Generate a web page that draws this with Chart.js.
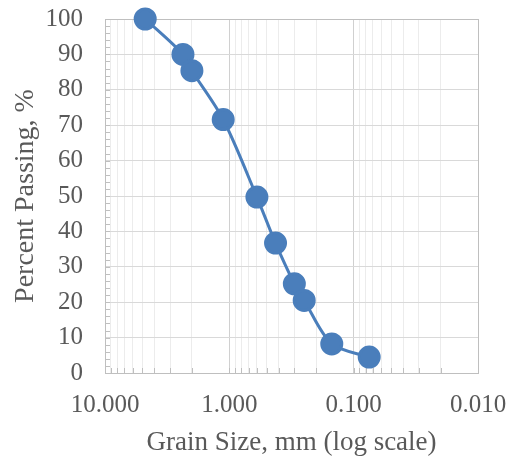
<!DOCTYPE html>
<html lang="en">
<head>
  <meta charset="UTF-8" />
  <title>Grain Size Distribution</title>
  <script src="https://cdn.jsdelivr.net/npm/chart.js"></script>
  <style>
    html, body { margin: 0; padding: 0; background: #fff; }
    #wrap { width: 511px; height: 459px; }
  </style>
</head>
<body>
  <div id="wrap"><canvas id="gradation" width="511" height="459"></canvas></div>

  <script>
    // sieve sizes (mm) and percent passing
    const grainSize = [4.75, 2.36, 2.0, 1.12, 0.6, 0.425, 0.3, 0.25, 0.15, 0.075];
    const percentPassing = [100, 90, 85.4, 71.6, 49.7, 36.7, 25.2, 20.5, 8.2, 4.5];
    const decades = [0.01, 0.1, 1, 10];
    const xMin = 0.01, xMax = 10;
    const yMin = 0, yMax = 100, yStep = 10;

    const serif = "'Liberation Serif', 'Times New Roman', serif";
    const textGray = "#595959";
    const blue = "#4a7ebb";

    const isDecade = v => Math.abs(Math.log10(v) - Math.round(Math.log10(v))) < 1e-9;

    // small inside tick marks like Excel minor ticks
    const innerTicks = {
      id: "innerTicks",
      beforeDatasetsDraw(chart) {
        const { ctx, chartArea: a, scales: { x, y } } = chart;
        ctx.save();
        ctx.strokeStyle = "#bfbfbf";
        ctx.lineWidth = 1;
        ctx.beginPath();
        x.ticks.forEach(t => {
          const px = Math.round(x.getPixelForValue(t.value)) + 0.5;
          ctx.moveTo(px, a.bottom);
          ctx.lineTo(px, a.bottom - 5);
        });
        for (let v = yMin; v <= yMax; v += 2) {
          const py = Math.round(y.getPixelForValue(v)) + 0.5;
          ctx.moveTo(a.left, py);
          ctx.lineTo(a.left + 5, py);
        }
        // plot area frame (top and right)
        ctx.moveTo(a.left, Math.round(a.top) + 0.5);
        ctx.lineTo(a.right, Math.round(a.top) + 0.5);
        ctx.moveTo(Math.round(a.right) + 0.5, a.top);
        ctx.lineTo(Math.round(a.right) + 0.5, a.bottom);
        ctx.stroke();
        ctx.restore();
      }
    };

    new Chart(document.getElementById("gradation"), {
      type: "line",
      data: {
        datasets: [{
          data: grainSize.map((g, i) => ({ x: g, y: percentPassing[i] })),
          borderColor: blue,
          backgroundColor: blue,
          borderWidth: 3,
          pointRadius: 10,
          pointHoverRadius: 10,
          tension: 0.3,
          clip: false
        }]
      },
      options: {
        responsive: false,
        animation: false,
        layout: { padding: { top: 19, right: 33, left: 0, bottom: 0 } },
        plugins: { legend: { display: false }, tooltip: { enabled: false } },
        scales: {
          x: {
            type: "logarithmic",
            reverse: true,
            min: xMin,
            max: xMax,
            afterBuildTicks(scale) {
              const ticks = [];
              decades.slice(0, -1).forEach(d => {
                for (let m = 1; m <= 9; m++) ticks.push({ value: +(m * d).toPrecision(6) });
              });
              ticks.push({ value: xMax });
              scale.ticks = ticks;
            },
            afterFit(scale) {
              scale.height = 86;
              scale.paddingLeft = 0;
              scale.paddingRight = 0;
            },
            ticks: {
              autoSkip: false,
              maxRotation: 0,
              color: textGray,
              font: { family: serif, size: 25 },
              padding: 17,
              callback: v => isDecade(v) ? Number(v).toFixed(3) : ""
            },
            grid: {
              drawTicks: false,
              color: c => (c.tick && isDecade(c.tick.value)) ? "#d0d0d0" : "#ececec"
            },
            border: { color: "#bfbfbf" },
            title: {
              display: true,
              text: "Grain Size, mm (log scale)",
              color: textGray,
              font: { family: serif, size: 27 },
              padding: { top: 5, bottom: 0 }
            }
          },
          y: {
            min: yMin,
            max: yMax,
            afterFit(scale) {
              scale.width = 105;
              scale.paddingTop = 0;
              scale.paddingBottom = 0;
            },
            ticks: {
              stepSize: yStep,
              color: textGray,
              font: { family: serif, size: 25 },
              padding: 22
            },
            grid: { drawTicks: false, color: "#d9d9d9" },
            border: { color: "#bfbfbf" },
            title: {
              display: true,
              text: "Percent Passing, %",
              color: textGray,
              font: { family: serif, size: 28 },
              padding: { top: 9, bottom: 0 }
            }
          }
        }
      },
      plugins: [innerTicks]
    });
  </script>
</body>
</html>
